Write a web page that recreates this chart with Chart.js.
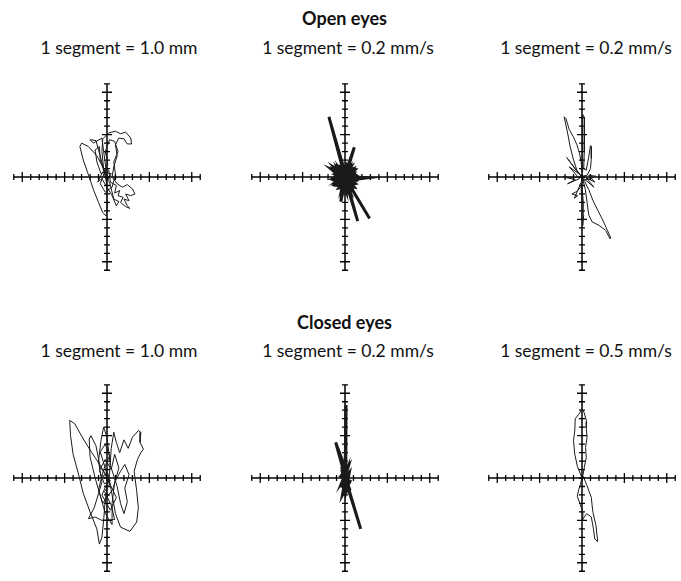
<!DOCTYPE html>
<html>
<head>
<meta charset="utf-8">
<script src="https://cdn.jsdelivr.net/npm/chart.js@4.4.0/dist/chart.umd.min.js"></script>
<style>
  body { margin: 0; width: 681px; height: 581px; overflow: hidden; background: #fff;
         font-family: Lato, "Open Sans", sans-serif; color: #111; position: relative; }
  .head { position: absolute; left: 0; width: 681px; text-align: center; font-weight: bold; font-size: 18px; line-height: 20px; }
  .sub { position: absolute; width: 240px; text-align: center; font-size: 17.5px; line-height: 20px; }
  canvas { position: absolute; }
</style>
</head>
<body>
<div class="head" style="left:4px;top:8px">Open eyes</div>
<div class="head" style="left:4px;top:312px">Closed eyes</div>
<div id="subs"></div>
<canvas id="p0" width="216" height="216" style="left:-1px;top:69px"></canvas>
<canvas id="p1" width="216" height="216" style="left:237px;top:69px"></canvas>
<canvas id="p2" width="216" height="216" style="left:474px;top:69px"></canvas>
<canvas id="p3" width="216" height="216" style="left:-1px;top:370px"></canvas>
<canvas id="p4" width="216" height="216" style="left:237px;top:370px"></canvas>
<canvas id="p5" width="216" height="216" style="left:474px;top:370px"></canvas>
<script>
// Labels
const segLabels = ['1 segment = 1.0 mm', '1 segment = 0.2 mm/s', '1 segment = 0.2 mm/s',
                   '1 segment = 1.0 mm', '1 segment = 0.2 mm/s', '1 segment = 0.5 mm/s'];
const labelCenters = [119, 348, 586];
const labelTops = [38, 341];

// Axis ticks, in segments
const tickSegments = [-11, -10, -9, -8, -7, -6, -5, -4, -3, -2, -1, 0, 1, 2, 3, 4, 5, 6, 7, 8, 9, 10, 11];
const majorSegments = [-10, -5, 5, 10];

// Traces, [x, y] in segments
const openDisplacement = [
  [0,0],[-0.5,1.2],[-1.2,2.5],[-2.2,3.6],[-3.0,4.0],[-3.2,3.6],[-2.8,2.0],[-2.2,0.3],[-1.6,-1.5],[-1.0,-3.0],
  [-0.5,-4.2],[-0.1,-4.6],[0.1,-3.0],[0,-1.0],[-0.4,1.0],[-0.6,3.0],[-0.5,4.5],[0.2,5.2],[1.0,5.4],[1.6,5.1],
  [2.2,5.3],[2.8,4.6],[2.9,3.9],[2.4,3.9],[2.0,4.5],[1.4,4.6],[1.0,3.8],[1.2,2.5],[0.8,1.2],[0.6,0],
  [1.2,-0.8],[1.8,-1.2],[2.4,-0.9],[3.0,-1.4],[3.3,-2.0],[2.8,-2.2],[2.2,-2.0],[2.6,-2.8],[2.0,-2.6],[2.4,-3.4],
  [2.7,-3.7],[2.2,-3.5],[1.6,-3.0],[1.9,-2.4],[1.3,-2.2],[1.5,-1.6],[0.9,-1.9],[1.1,-1.0],[0.4,-0.6],[0.2,0.8],
  [-0.7,0.4],[-1.2,1.8],[-1.4,3.2],[-0.9,3.6],[-0.8,2.0],[-0.3,0.5],[-0.8,-0.8],[-0.2,-1.8],[0.6,-1.2],[1.0,0.3],
  [0.8,1.8],[1.3,3.0],[0.9,4.2],[0.3,4.4],[-0.2,3.0],[0.1,1.5],[-0.4,0.2],[0.3,-0.6],[0.8,-2.6],[1.4,-2.9],
  [1.1,-3.4],[0.6,-2.2],[-0.6,-0.2],[-1.1,-0.6],[-0.5,0.6],[0.5,0.4],[0.0,-0.5],[-1.3,4.3],[-2.0,4.4],[-1.6,4.0],
  [-0.6,4.6],[0,0]
];
const openVelocityA = [
  [0,0],[-1.9,7.1],[0.1,0.2],[1.1,3.5],[-0.2,-0.3],[-1.6,0.9],[0.3,0.1],[2.6,-0.1],[0.2,-0.4],[2.9,-4.9],
  [0.1,-0.2],[1.5,-5.2],[-0.1,0.1],[-0.5,-2.9],[0.2,0.3],[-1.2,1.1],[0.9,-1.2],[-1.0,-1.0],[1.2,0.9],[-0.8,1.3],
  [0.6,-1.4],[-1.3,-0.4],[1.3,-0.3],[0.2,1.4],[-0.4,-1.5],[1.0,1.0],[-1.2,0.3],[0.8,-0.9],[-0.6,0.9],[0.4,-1.6],
  [1.1,0.4],[-1.0,-0.6],[0.5,1.1],[-0.3,-1.2],[-1.1,0.6],[1.2,-0.8],[-0.7,-1.3],[0.7,1.2],[-1.3,-0.1],[1.3,0.2],
  [-0.2,1.3],[0.1,-1.6],[-0.9,1.0],[1.0,-1.1],[-1.1,-0.9],[0.9,0.8],[-0.5,1.2],[0.5,-1.5],[-1.2,0.8],[1.2,-0.5],
  [-0.6,-1.1],[0.6,0.6],[-0.8,-0.4],[0.8,0.2],[-0.3,0.7],[0.3,-0.9],[0,0]
];
const openVelocityB = [
  [0,0],[-0.6,0.8],[-1.0,2.0],[-1.4,3.6],[-1.7,5.2],[-2.0,6.6],[-2.1,7.1],[-1.9,6.9],[-1.5,5.6],[-1.0,4.7],
  [-0.6,3.8],[-0.3,2.8],[-0.1,1.8],[0.0,0.6],[0.1,1.5],[0.0,3.5],[0.1,5.5],[0.1,7.4],[0.3,7.0],[0.3,5.0],
  [0.25,3.0],[0.2,1.0],[0.5,0.8],[0.8,2.4],[1.0,3.7],[1.1,3.6],[1.1,2.2],[1.0,1.0],[0.6,0.2],[-1.0,-0.1],
  [-2.2,0.0],[-0.8,-0.3],[-1.7,-0.8],[-0.3,-0.2],[-1.5,1.2],[-0.4,0.4],[-1.8,2.3],[-0.2,0.2],[0.3,-0.5],[0.8,-1.5],
  [1.3,-2.8],[1.9,-4.0],[2.5,-5.2],[3.0,-6.3],[3.4,-7.2],[3.3,-7.3],[2.8,-6.3],[2.0,-5.7],[1.2,-5.3],[0.8,-4.5],
  [0.6,-3.0],[0.4,-1.5],[0.1,-0.3],[-0.1,-1.5],[0.0,-3.0],[-0.05,-4.5],[0.1,-5.7],[0.2,-4.5],[0.15,-3.0],[0.0,-1.0],
  [-0.6,-1.7],[-1.2,-2.0],[-0.5,-2.2],[-0.9,-2.5],[0,-0.4],[1.0,-0.2],[1.6,0.1],[0.8,0.2],[1.5,-0.6],[0.5,-0.1],
  [1.4,-1.2],[0,0]
];
const closedDisplacement = [
  [0,0],[-0.8,1.5],[-1.8,3.0],[-2.8,4.6],[-3.8,6.4],[-4.4,6.8],[-4.3,5.0],[-4.0,2.8],[-3.4,0.6],[-2.8,-1.8],
  [-2.0,-4.0],[-1.2,-6.0],[-0.9,-7.8],[-0.6,-7.0],[-0.4,-5.0],[-0.2,-2.5],[0.3,0.5],[0.5,3.5],[0.8,5.4],[1.1,4.2],
  [1.5,3.0],[2.0,4.5],[2.5,3.5],[3.0,4.8],[3.7,5.6],[4.0,5.4],[3.9,4.2],[4.3,3.4],[4.0,3.0],[3.6,2.2],
  [3.2,0.8],[3.5,-1.5],[3.7,-3.5],[3.5,-5.2],[2.7,-6.3],[1.6,-5.8],[1.0,-4.2],[0.6,-2.0],[0.2,0.2],[-0.8,1.2],
  [-1.3,3.8],[-1.9,5.0],[-2.1,4.6],[-2.0,2.5],[-1.4,0.0],[-0.7,-2.4],[-0.2,-4.2],[0.6,-5.5],[0.6,-3.0],[0.9,-0.5],
  [1.6,0.8],[2.1,1.6],[2.6,0.4],[2.1,-1.2],[2.4,-2.8],[2.0,-4.2],[1.6,-3.0],[1.2,-1.0],[0.4,1.5],[0.0,4.8],
  [-0.4,6.0],[-0.7,4.5],[-1.0,2.0],[-0.6,-0.5],[-1.5,-3.5],[-2.2,-4.8],[-1.4,-4.6],[-0.6,-5.0],[0.9,-4.9],[0.5,-3.2],
  [-0.3,-1.6],[0.3,-0.8],[0.1,0.6],[-0.5,0.2],[0.4,-0.3],[-0.3,-0.7],[-0.9,0.9],[-0.2,2.2],[0.5,1.0],[0.9,2.8],
  [1.4,1.2],[0.7,-1.3],[-0.5,-3.0],[-1.0,-1.4],[-0.4,1.0],[0.3,2.6],[-0.2,4.0],[-0.8,3.1],[0.2,-0.2],[-0.6,-2.0],
  [0.4,-3.8],[1.1,-2.3],[0,0]
];
const closedVelocityA = [
  [0,0],[0.12,8.6],[0.1,1.0],[-1.1,4.2],[0.2,-0.5],[1.85,-6.0],[0.3,-1.0],[-0.4,1.3],[0.5,-1.2],[-0.3,-1.0],
  [0.4,1.4],[-0.5,0.2],[0.6,-0.4],[-0.3,-2.0],[0.2,0.9],[-0.4,-0.6],[0.5,0.6],[0.1,-1.5],[-0.2,1.6],[0.5,-1.8],
  [-0.4,1.0],[0.3,-1.2],[-0.5,-0.9],[0.4,0.8],[0,0]
];
const closedVelocityB = [
  [0,0],[-0.55,1.4],[-0.85,2.8],[-1.0,4.4],[-0.85,5.6],[-0.8,7.0],[-0.4,7.5],[0,8.1],[0.26,7.7],[0.55,6.6],
  [0.5,5.9],[0.6,4.8],[0.42,3.6],[0.5,2.4],[0.3,1.4],[0.1,0.3],[0.55,-0.8],[1.1,-2.3],[1.2,-3.3],[1.3,-4.1],
  [1.65,-5.6],[1.85,-7.5],[1.5,-7.2],[1.35,-6.0],[1.1,-4.6],[0.55,-4.2],[0.2,-4.7],[0.0,-5.0],[0.1,-4.0],[-0.4,-2.6],
  [-0.55,-2.2],[-0.4,-1.4],[-0.2,-0.8],[0,0]
];

const traces = [openDisplacement, openVelocityA, openVelocityB, closedDisplacement, closedVelocityA, closedVelocityB];
const traceWidths = [1, 3, 1, 1, 3, 1];

// Sub titles
const subs = document.getElementById('subs');
segLabels.forEach((txt, i) => {
  const d = document.createElement('div');
  d.className = 'sub';
  d.textContent = txt;
  d.style.left = (labelCenters[i % 3] - 120) + 'px';
  d.style.top = labelTops[Math.floor(i / 3)] + 'px';
  subs.appendChild(d);
});

function tickRadius(ctx) {
  const p = ctx.raw;
  if (!p) return 3;
  const v = p.x !== 0 ? p.x : p.y;
  return majorSegments.includes(v) ? 5 : 3;
}

function makePanel(id, path, lw) {
  const first = tickSegments[0];
  const last = tickSegments[tickSegments.length - 1];
  new Chart(document.getElementById(id).getContext('2d'), {
    type: 'scatter',
    data: {
      datasets: [
        { data: path.map(([x, y]) => ({ x, y })), showLine: true, borderColor: '#1a1a1a',
          borderWidth: lw, pointRadius: 0, tension: 0, order: 0 },
        { data: [{ x: first, y: 0 }, { x: last, y: 0 }], showLine: true, borderColor: '#000',
          borderWidth: 1.5, pointRadius: 0, order: 1 },
        { data: [{ x: 0, y: first }, { x: 0, y: last }], showLine: true, borderColor: '#000',
          borderWidth: 1.5, pointRadius: 0, order: 1 },
        { data: tickSegments.map(v => ({ x: v, y: 0 })), showLine: false, pointStyle: 'line',
          rotation: 90, radius: tickRadius, borderColor: '#000', borderWidth: 1.3, order: 1 },
        { data: tickSegments.map(v => ({ x: 0, y: v })), showLine: false, pointStyle: 'line',
          rotation: 0, radius: tickRadius, borderColor: '#000', borderWidth: 1.3, order: 1 }
      ]
    },
    options: {
      responsive: false,
      animation: false,
      events: [],
      layout: { padding: 0 },
      plugins: { legend: { display: false }, tooltip: { enabled: false } },
      scales: {
        x: { type: 'linear', min: -12, max: 12, display: false },
        y: { type: 'linear', min: -12, max: 12, display: false }
      }
    }
  });
}

traces.forEach((t, i) => makePanel('p' + i, t, traceWidths[i]));
</script>
</body>
</html>
